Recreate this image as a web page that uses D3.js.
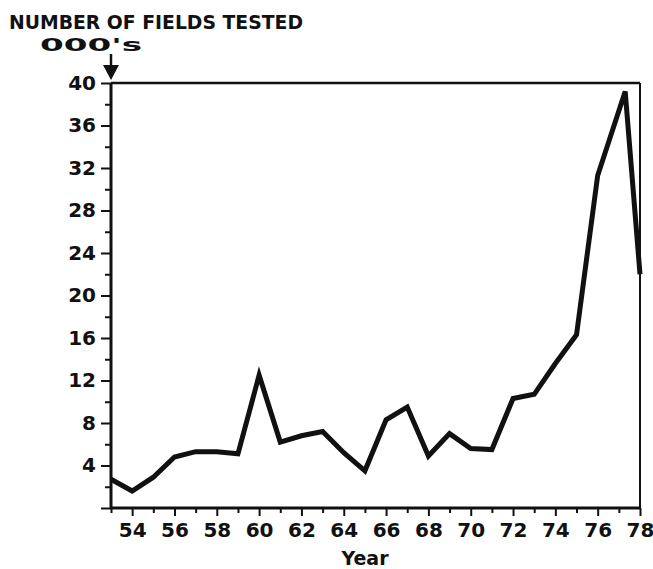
<!DOCTYPE html>
<html>
<head>
<meta charset="utf-8">
<script src="https://cdn.jsdelivr.net/npm/d3@7"></script>
<style>
  html, body { margin: 0; padding: 0; background: #fff; }
  svg { display: block; }
  text { font-family: "DejaVu Sans", sans-serif; font-weight: bold; fill: #111; }
</style>
</head>
<body>
<svg id="chart" width="653" height="569"></svg>
<script>
// ---- data ----
const years  = [53, 54, 55, 56, 57, 58, 59, 60, 61, 62, 63, 64, 65, 66, 67, 68, 69, 70, 71, 72, 73, 74, 75, 76, 77.3, 78];
const fields = [2.7, 1.6, 2.9, 4.8, 5.3, 5.3, 5.1, 12.5, 6.2, 6.8, 7.2, 5.2, 3.5, 8.3, 9.5, 4.9, 7.0, 5.6, 5.5, 10.3, 10.7, 13.6, 16.3, 31.3, 39.2, 22.0];
const yMajorTicks = [0, 4, 8, 12, 16, 20, 24, 28, 32, 36, 40];
const yMinorTicks = [2, 6, 10, 14, 18, 22, 26, 30, 34, 38];
const xMajorTicks = [54, 56, 58, 60, 62, 64, 66, 68, 70, 72, 74, 76, 78];
const xMinorTicks = [53, 55, 57, 59, 61, 63, 65, 67, 69, 71, 73, 75, 77];
const titleText = "NUMBER OF FIELDS TESTED";
const unitText = "000's";
const xTitle = "Year";

// ---- layout ----
const svg = d3.select("#chart");
const L = 111, R = 640, T = 83, B = 508;

const x = d3.scaleLinear().domain([53, 78]).range([L, R]);
const y = d3.scaleLinear().domain([0, 40]).range([B, T]);

// frame top & right
svg.append("line").attr("x1", L).attr("x2", R).attr("y1", T).attr("y2", T)
  .attr("stroke", "#111").attr("stroke-width", 2.5);
svg.append("line").attr("x1", R).attr("x2", R).attr("y1", T).attr("y2", B)
  .attr("stroke", "#111").attr("stroke-width", 2);

// y axis
const yMajor = svg.append("g").attr("transform", `translate(${L},0)`)
  .call(d3.axisLeft(y).tickValues(yMajorTicks).tickSize(10).tickPadding(5)
    .tickFormat(d => d === 0 ? "" : d));
const yMinor = svg.append("g").attr("transform", `translate(${L},0)`)
  .call(d3.axisLeft(y).tickValues(yMinorTicks).tickSize(6).tickFormat(""));

// x axis
const xMajor = svg.append("g").attr("transform", `translate(0,${B})`)
  .call(d3.axisBottom(x).tickValues(xMajorTicks).tickSize(8).tickPadding(7));
const xMinor = svg.append("g").attr("transform", `translate(0,${B})`)
  .call(d3.axisBottom(x).tickValues(xMinorTicks).tickSize(5).tickFormat(""));

[yMajor, yMinor, xMajor, xMinor].forEach(g => {
  g.select(".domain").attr("stroke", "#111").attr("stroke-width", 3);
  g.selectAll(".tick line").attr("stroke", "#111").attr("stroke-width", 2);
});
yMajor.select(".domain").attr("d", `M0,${B}V${T}`);
yMinor.select(".domain").remove();
xMajor.select(".domain").attr("d", `M${L},0H${R}`);
xMinor.select(".domain").remove();

yMajor.selectAll(".tick text").attr("font-size", 20).attr("fill", "#111")
  .attr("font-family", "DejaVu Sans").attr("font-weight", "bold");
xMajor.selectAll(".tick text").attr("font-size", 20).attr("fill", "#111")
  .attr("font-family", "DejaVu Sans").attr("font-weight", "bold");

// data line
const line = d3.line().x((d, i) => x(years[i])).y(d => y(d));
svg.append("path").datum(fields)
  .attr("d", line)
  .attr("fill", "none").attr("stroke", "#111")
  .attr("stroke-width", 5).attr("stroke-linejoin", "miter").attr("stroke-miterlimit", 4);

// titles
svg.append("text").attr("x", 9).attr("y", 29).attr("font-size", 20)
  .attr("textLength", 294).attr("lengthAdjust", "spacingAndGlyphs").text(titleText);
svg.append("text").attr("x", 40).attr("y", 51).attr("font-size", 17)
  .attr("textLength", 102).attr("lengthAdjust", "spacingAndGlyphs").text(unitText);

// arrow
svg.append("line").attr("x1", 111).attr("x2", 111).attr("y1", 54).attr("y2", 70)
  .attr("stroke", "#111").attr("stroke-width", 2.5);
svg.append("path").attr("d", "M103,65 L119,65 L111,80 Z").attr("fill", "#111");

svg.append("text").attr("x", 365).attr("y", 565).attr("text-anchor", "middle")
  .attr("font-size", 19).text(xTitle);
</script>
</body>
</html>
